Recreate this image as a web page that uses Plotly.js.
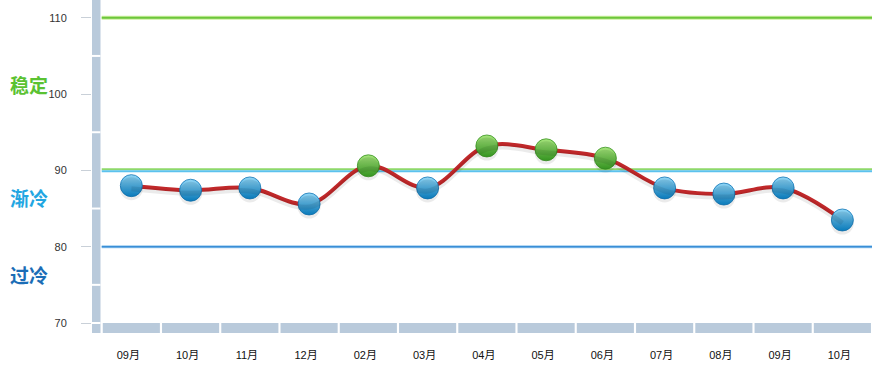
<!DOCTYPE html>
<html>
<head>
<meta charset="utf-8">
<script src="https://cdn.plot.ly/plotly-3.0.1.min.js"></script>
<style>html,body{margin:0;padding:0;background:#fff;}#chart{width:891px;height:374px;}</style>
</head>
<body>
<div id="chart"></div>
<script>
// ---- data ----
const monthLabels = ["09月","10月","11月","12月","02月","03月","04月","05月","06月","07月","08月","09月","10月"];
const indexValues = [88.0, 87.4, 87.7, 85.6, 90.6, 87.7, 93.2, 92.7, 91.6, 87.7, 86.9, 87.7, 83.5];
const yTicks = [70, 80, 90, 100, 110];
const yMinorTicks = [75, 85, 95, 105];
const stableLine = 110;
const coolingLine = 90;
const overCoolLine = 80;
const zoneLabels = ["稳定", "渐冷", "过冷"];
const zoneLabelValues = [101.2, 86.4, 76.3];
const greenThreshold = 90;

const xIdx = monthLabels.map((_, i) => i);
const yLo = 68.69, yHi = 112.33;
const shadowShift = 0.4;

const isGreen = indexValues.map(v => v >= greenThreshold);
const markerTop = isGreen.map(g => g ? "#a6e47c" : "#92d6f5");
const markerBottom = isGreen.map(g => g ? "#3aa324" : "#0a86cc");
const markerLine = isGreen.map(g => g ? "#3a9422" : "#1276b6");

const traces = [
  { // shadow
    x: xIdx, y: indexValues, yaxis: "y2", type: "scatter", mode: "lines+markers",
    line: {shape: "spline", smoothing: 1, color: "rgba(0,0,0,0.08)", width: 5},
    marker: {size: 23, color: "rgba(0,0,0,0.08)"},
    hoverinfo: "skip", showlegend: false
  },
  {
    x: xIdx, y: indexValues, type: "scatter", mode: "lines",
    line: {shape: "spline", smoothing: 1, color: "#c0282a", width: 4},
    hoverinfo: "skip", showlegend: false
  },
  {
    x: xIdx, y: indexValues, type: "scatter", mode: "markers",
    marker: {size: 22, color: markerTop, line: {color: markerLine, width: 0.8},
             gradient: {type: "vertical", color: markerBottom}},
    showlegend: false
  }
];

const shapes = [];
// vertical axis bar
shapes.push({type: "rect", xref: "paper", yref: "paper", x0: 0, x1: 8.5/780, y0: 0, y1: 1,
  fillcolor: "#b9cadb", line: {width: 0}, layer: "below"});
yMinorTicks.concat([yTicks[0]]).forEach(v => {
  shapes.push({type: "line", xref: "paper", yref: "y", x0: 0, x1: 8.5/780, y0: v, y1: v,
    line: {color: "#ffffff", width: 2}, layer: "below"});
});
// bottom segmented bar
xIdx.forEach(i => {
  shapes.push({type: "rect", xref: "x", yref: "y", x0: i - 0.5 + 0.018, x1: i + 0.5 - 0.018,
    y0: yLo, y1: yTicks[0], fillcolor: "#b9cadb", line: {width: 0}, layer: "below"});
});
function hline(v, color, width) {
  shapes.push({type: "line", xref: "x", yref: "y", x0: -0.5, x1: xIdx.length - 0.5, y0: v, y1: v,
    line: {color: color, width: width}, layer: "below"});
}
hline(stableLine, "#cdf0a0", 4);
hline(stableLine, "#6cc63c", 2);
hline(coolingLine + 0.14, "#8ed86a", 2);
hline(coolingLine - 0.12, "#5cc2ee", 2);
hline(overCoolLine, "#9cccf0", 3);
hline(overCoolLine, "#3a8ed6", 1.6);

const zoneColors = ["#5ac232", "#22a6e2", "#1b6db6"];
const annotations = zoneLabels.map((t, i) => ({
  text: "<b>" + t + "</b>", xref: "paper", yref: "y", x: (8 - 92)/780, y: zoneLabelValues[i],
  xanchor: "left", yanchor: "middle", showarrow: false,
  font: {family: "Noto Sans CJK SC, sans-serif", size: 19, color: zoneColors[i]}
}));

const layout = {
  width: 891, height: 374,
  margin: {l: 92, r: 19, t: 0, b: 41},
  paper_bgcolor: "#ffffff", plot_bgcolor: "#ffffff",
  showlegend: false,
  xaxis: {
    range: [-0.664, 12.5], tickvals: xIdx, ticktext: monthLabels,
    showgrid: false, zeroline: false, showline: false, ticks: "",
    tickfont: {family: "Liberation Sans, Arial, Noto Sans CJK SC, sans-serif", size: 11, color: "#111"},
    ticklabelstandoff: 14, ticklabelshift: -3, fixedrange: true
  },
  yaxis: {
    range: [yLo, yHi], tickvals: yTicks,
    showgrid: false, zeroline: false, showline: false,
    ticks: "outside", ticklen: 10, tickcolor: "#c9d0d8", tickwidth: 1,
    tickfont: {family: "Liberation Sans, Arial, sans-serif", size: 11, color: "#333"},
    ticklabelstandoff: 12, fixedrange: true
  },
  yaxis2: {
    overlaying: "y", range: [yLo + shadowShift, yHi + shadowShift],
    visible: false, fixedrange: true
  },
  shapes: shapes,
  annotations: annotations
};

Plotly.newPlot("chart", traces, layout, {displayModeBar: false, staticPlot: true});
</script>
</body>
</html>
